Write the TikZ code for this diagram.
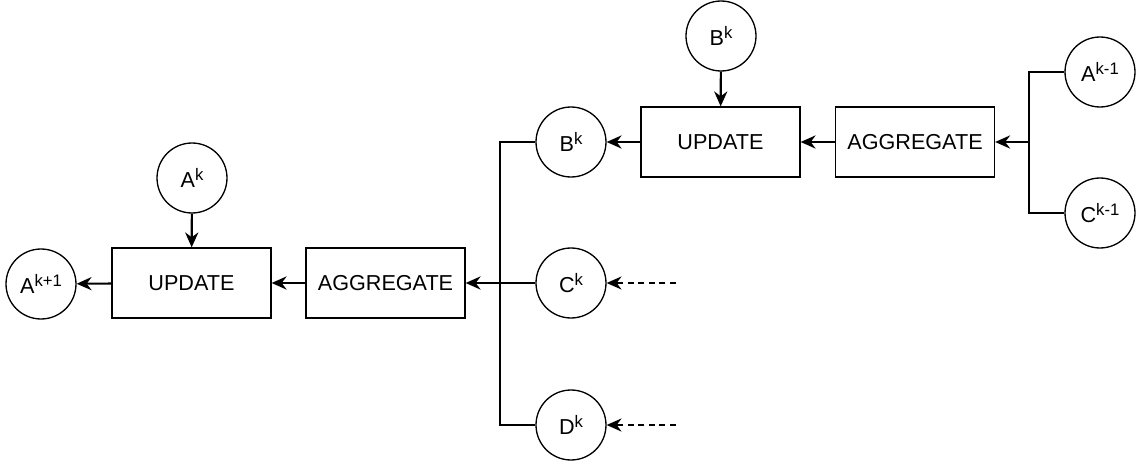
\documentclass[tikz,border=0pt]{standalone}
\usepackage{fontspec}
\setmainfont{Liberation Sans}
\usetikzlibrary{arrows.meta}
\newcommand{\hoch}[1]{\raisebox{0.55ex}{\fontsize{9.5}{10}\selectfont #1}}

\begin{document}
\begin{tikzpicture}[x=0.02cm, y=-0.02cm,
    font=\fontsize{12.3}{14}\selectfont,
    kreis/.style={draw, circle, line width=0.75pt, minimum size=1.4cm, inner sep=0pt},
    kasten/.style={draw, rectangle, line width=0.75pt, minimum width=3.18cm, minimum height=1.4cm, inner sep=0pt},
    pfeil/.style={line width=1.2pt, -{Stealth[length=8.5pt, width=7.5pt, inset=2.8pt]}},
    strich/.style={line width=0.75pt},
    gestrichelt/.style={line width=0.75pt, dash pattern=on 3.5pt off 2.5pt, -{Stealth[length=8.5pt, width=7.5pt, inset=2.8pt]}}]
    \useasboundingbox (0,0) rectangle (1137,466);
    % linke Stufe:
    \node[kreis] (ak1) at (41,284) {A\hoch{k+1}};
    \node[kasten] (upd1) at (191.5,283) {UPDATE};
    \node[kasten] (agg1) at (385.5,283) {AGGREGATE};
    \node[kreis] (ak) at (192,178) {A\hoch{k}};
    % Nachbarn:
    \node[kreis] (bk) at (571,142) {B\hoch{k}};
    \node[kreis] (ck) at (571,283) {C\hoch{k}};
    \node[kreis] (dk) at (571,425) {D\hoch{k}};
    \coordinate (j1) at (500,283);
    \coordinate (cc) at (676,283);
    \coordinate (dd) at (676,425);
    % rechte Stufe:
    \node[kasten] (upd2) at (720.5,142) {UPDATE};
    \node[kasten] (agg2) at (915,142) {AGGREGATE};
    \node[kreis] (bkt) at (721,36) {B\hoch{k}};
    \node[kreis] (akm) at (1100,72) {A\hoch{k-1}};
    \node[kreis] (ckm) at (1100,213) {C\hoch{k-1}};
    \coordinate (j2) at (1029,142);
    % Verbindungen links:
    \draw[pfeil] (upd1) -- (ak1);
    \draw[pfeil] (agg1) -- (upd1);
    \draw[pfeil] (ak) -- (upd1);
    \draw[strich] (bk.west) -| (j1) |- (dk.west);
    \draw[strich] (ck.west) -- (j1);
    \draw[pfeil] (j1) -- (agg1.east);
    \draw[gestrichelt] (cc) -- (ck);
    \draw[gestrichelt] (dd) -- (dk);
    % Verbindungen rechts:
    \draw[pfeil] (upd2) -- (bk);
    \draw[pfeil] (agg2) -- (upd2);
    \draw[pfeil] (bkt) -- (upd2);
    \draw[strich] (akm.west) -| (j2) |- (ckm.west);
    \draw[pfeil] (j2) -- (agg2.east);
\end{tikzpicture}
\end{document}
